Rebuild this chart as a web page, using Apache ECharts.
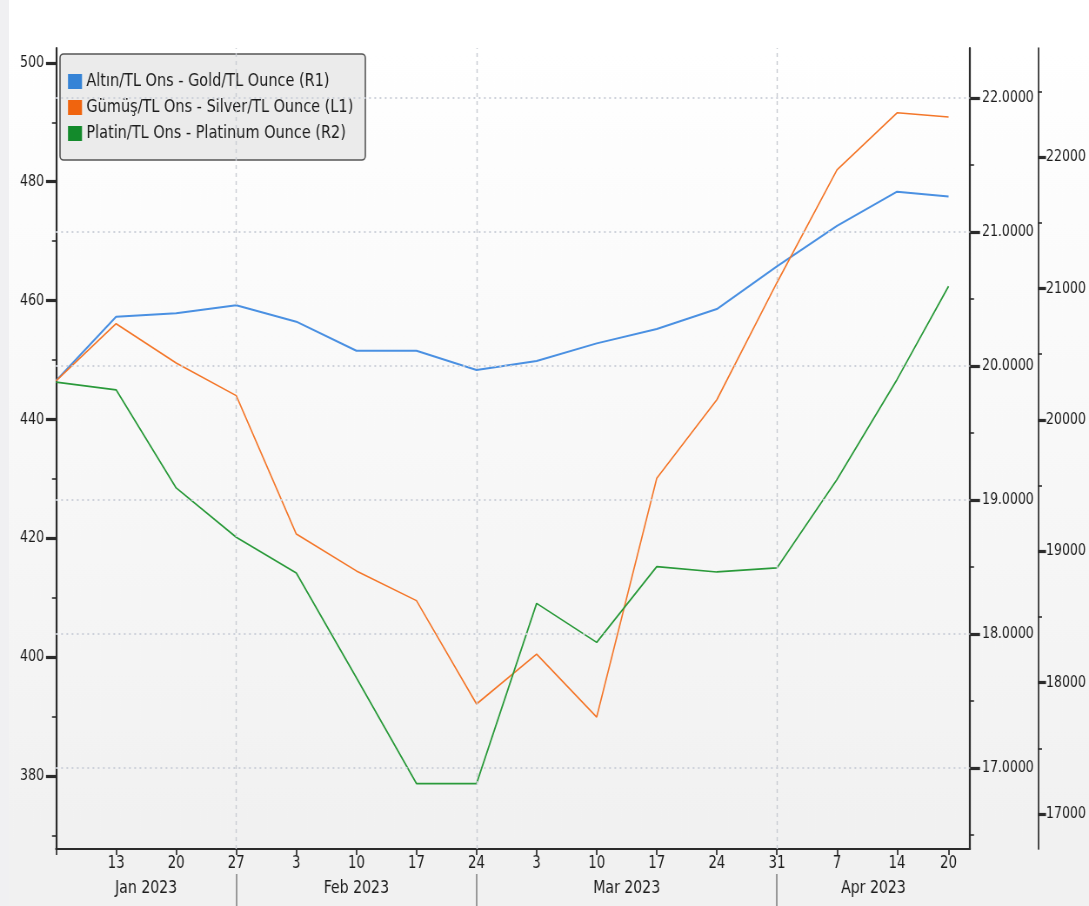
<!DOCTYPE html>
<html>
<head>
<meta charset="utf-8">
<script src="https://cdn.jsdelivr.net/npm/echarts@6/dist/echarts.min.js"></script>
<style>
html,body{margin:0;padding:0;background:#f1f1f1;overflow:hidden;width:1089px;height:906px;}
#c{position:absolute;left:0;top:0;width:1252px;height:906px;transform:scaleX(0.86981);transform-origin:0 0;}
#strip{position:absolute;left:0;top:0;width:9px;height:906px;background:#f0f0f2;}
</style>
</head>
<body>
<div id="c"></div>
<div id="strip"></div>
<script>
// ---- data ----
const dates = ['2023-01-06','2023-01-13','2023-01-20','2023-01-27','2023-02-03','2023-02-10','2023-02-17','2023-02-24',
               '2023-03-03','2023-03-10','2023-03-17','2023-03-24','2023-03-31','2023-04-07','2023-04-14','2023-04-20'];
const goldR1 = [19.890,20.368,20.393,20.453,20.331,20.114,20.114,19.970,20.037,20.169,20.276,20.425,20.743,21.045,21.301,21.264];
const silverL1 = [446.5,456.1,449.5,444.0,420.7,414.5,409.5,392.1,400.5,389.9,430.1,443.3,463.0,482.0,491.6,490.9];
const platinumR2 = [20287,20229,19482,19106,18834,18037,17231,17231,18603,18306,18883,18842,18873,19546,20308,21017];
const seriesNames = ['Altın/TL Ons - Gold/TL Ounce (R1)','Gümüş/TL Ons - Silver/TL Ounce (L1)','Platin/TL Ons - Platinum Ounce (R2)'];
const monthLabels = ['Jan 2023','Feb 2023','Mar 2023','Apr 2023'];
const leftTicks = [380,400,420,440,460,480,500];
const leftMinor = [370,390,410,430,450,470,490];
const r1Ticks = [17,18,19,20,21,22];
const r1Minor = [16.5,17.5,18.5,19.5,20.5,21.5];
const r2Ticks = [17000,18000,19000,20000,21000,22000];
const r2Minor = [17500,18500,19500,20500,21500,22500];

// ---- derived ----
const K = 1089/1252; // horizontal condensing of the whole drawing
const hx = v => v / K;
const start = Date.UTC(2023,0,6);
const offs = dates.map(s => Math.round((Date.parse(s+'T00:00:00Z') - start)/864e5));
const xMax = 106.5;
const monthOf = offs.map(o => new Date(start + o*864e5).getUTCMonth());
const seps = [];
for (let m = 0; m < 3; m++) { let mx = -1; offs.forEach((o,i)=>{ if (monthOf[i]===m) mx = Math.max(mx,o); }); seps.push(mx); }
const bounds = [0, ...seps, xMax];
const mids = monthLabels.map((_,i)=> (bounds[i]+bounds[i+1])/2);
const pair = arr => arr.map((v,i)=>[offs[i], v]);

const FONT = "'DejaVu Sans Condensed','DejaVu Sans','Liberation Sans',sans-serif";
const TXT = '#1c1c1c';
const AX = '#2b2b2b';
const FS = 16;

const chart = echarts.init(document.getElementById('c'));
const yBase = (min,max,pos,offset)=>({type:'value',min,max,position:pos,offset,splitLine:{show:false},
  axisLine:{show:true,onZero:false,lineStyle:{color:AX,width:2.2}}});

const option = {
  animation:false,
  backgroundColor:{type:'linear',x:0,y:0,x2:0,y2:1,colorStops:[{offset:0,color:'#ffffff'},{offset:0.06,color:'#ffffff'},{offset:0.93,color:'#f1f1f1'},{offset:1,color:'#f1f1f1'}]},
  textStyle:{fontFamily:FONT},
  grid:{left:hx(56),right:hx(119),top:48,bottom:57},
  legend:{
    orient:'vertical',left:hx(60),top:54,
    backgroundColor:'#ebebeb',borderColor:'#555',borderWidth:1.6,borderRadius:4,
    padding:[18,hx(12),17,hx(8)],itemGap:7,itemWidth:hx(14),itemHeight:15,icon:'rect',
    textStyle:{fontFamily:FONT,fontSize:18.5,color:TXT,padding:[1,0,0,0]},
    data:[
      {name:seriesNames[0],itemStyle:{color:'#3583d6'}},
      {name:seriesNames[1],itemStyle:{color:'#f0640e'}},
      {name:seriesNames[2],itemStyle:{color:'#138a2b'}}
    ]
  },
  xAxis:[
    {type:'value',min:0,max:xMax,position:'bottom',splitLine:{show:false},
     axisLine:{show:true,onZero:false,lineStyle:{color:AX,width:2.2}},
     axisTick:{show:true,customValues:offs,length:6,lineStyle:{color:AX,width:1.7}},
     axisLabel:{customValues:offs.slice(1),margin:6,fontSize:17,color:TXT,fontFamily:FONT,
       formatter:v=>String(new Date(start+Math.round(v)*864e5).getUTCDate())}},
    {type:'value',min:0,max:xMax,position:'bottom',offset:25,splitLine:{show:false},
     axisLine:{show:false,onZero:false},
     axisTick:{show:true,customValues:seps,length:32,lineStyle:{color:'#8a8a8a',width:1.7}},
     axisLabel:{customValues:mids,margin:5,fontSize:18,color:TXT,fontFamily:FONT,
       formatter:v=>{const i=mids.findIndex(m=>Math.abs(m-v)<0.01);return i>=0?monthLabels[i]:'';}}}
  ],
  yAxis:[
    Object.assign(yBase(367.7,502.5,'left',0),{
      axisTick:{show:true,customValues:leftTicks,length:hx(10),lineStyle:{color:AX,width:3.2}},
      axisLabel:{customValues:leftTicks,margin:hx(12),fontSize:FS,color:TXT,fontFamily:FONT,formatter:v=>String(v)}}),
    Object.assign(yBase(16.396,22.373,'right',0),{
      axisTick:{show:true,customValues:r1Ticks,length:hx(10),lineStyle:{color:AX,width:3.2}},
      axisLabel:{customValues:r1Ticks,margin:hx(12),fontSize:FS,color:TXT,fontFamily:FONT,formatter:v=>v.toFixed(4)}}),
    Object.assign(yBase(16733,22831,'right',hx(68)),{
      axisLine:{show:true,onZero:false,lineStyle:{color:AX,width:1.7}},
      axisTick:{show:true,customValues:r2Ticks,length:hx(8),lineStyle:{color:AX,width:3.2}},
      axisLabel:{customValues:r2Ticks,margin:hx(8),fontSize:FS,color:TXT,fontFamily:FONT,formatter:v=>String(Math.round(v))}}),
    Object.assign(yBase(367.7,502.5,'left',0),{axisLine:{show:false,onZero:false},
      axisTick:{show:true,customValues:leftMinor,length:hx(4),lineStyle:{color:AX,width:1.6}},axisLabel:{show:false}}),
    Object.assign(yBase(16.396,22.373,'right',0),{axisLine:{show:false,onZero:false},
      axisTick:{show:true,customValues:r1Minor,length:hx(4),lineStyle:{color:AX,width:1.6}},axisLabel:{show:false}}),
    Object.assign(yBase(16733,22831,'right',hx(68)),{axisLine:{show:false,onZero:false},
      axisTick:{show:true,customValues:r2Minor,length:hx(4),lineStyle:{color:AX,width:1.6}},axisLabel:{show:false}})
  ],
  series:[
    {name:'gridV',type:'line',xAxisIndex:0,yAxisIndex:0,data:[],z:1,silent:true,
     markLine:{silent:true,symbol:'none',label:{show:false},lineStyle:{color:'#c9ccd3',type:[4,4],width:1.4},
       data:seps.map(s=>({xAxis:s}))}},
    {name:'gridH',type:'line',xAxisIndex:0,yAxisIndex:1,data:[],z:1,silent:true,
     markLine:{silent:true,symbol:'none',label:{show:false},lineStyle:{color:'#cdd1da',type:[2,4],width:2},
       data:r1Ticks.map(t=>({yAxis:t}))}},
    {name:seriesNames[0],type:'line',xAxisIndex:0,yAxisIndex:1,data:pair(goldR1),showSymbol:false,z:3,
     lineStyle:{color:'#4a90e2',width:2},itemStyle:{color:'#4a90e2'}},
    {name:seriesNames[1],type:'line',xAxisIndex:0,yAxisIndex:0,data:pair(silverL1),showSymbol:false,z:3,
     lineStyle:{color:'#f4772a',width:1.6},itemStyle:{color:'#f4772a'}},
    {name:seriesNames[2],type:'line',xAxisIndex:0,yAxisIndex:2,data:pair(platinumR2),showSymbol:false,z:3,
     lineStyle:{color:'#2a9a3a',width:1.7},itemStyle:{color:'#2a9a3a'}}
  ]
};
chart.setOption(option);
</script>
</body>
</html>
